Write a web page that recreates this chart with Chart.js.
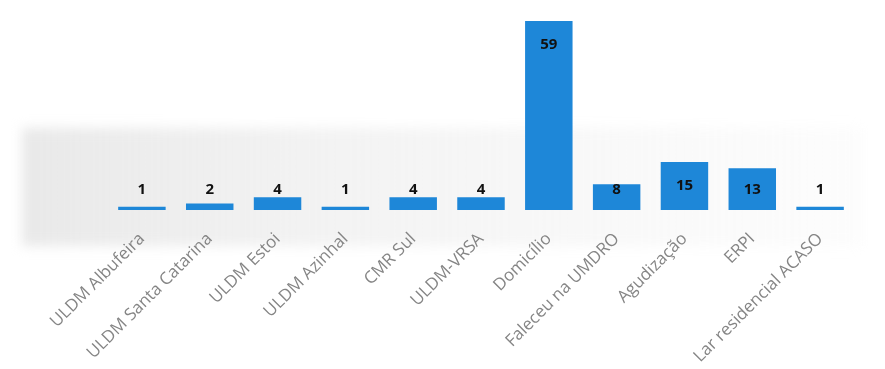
<!DOCTYPE html>
<html lang="pt">
<head>
  <meta charset="utf-8">
  <script src="https://cdn.jsdelivr.net/npm/chart.js"></script>
  <style>
    html, body { margin: 0; padding: 0; background: #fff; }
    #wrap { width: 885px; height: 369px; position: relative; }
  </style>
</head>
<body>
  <div id="wrap">
    <canvas id="chartDestino"></canvas>
  </div>

<script>
  // destino dos utentes após alta
  var destinos = ["ULDM Albufeira", "ULDM Santa Catarina", "ULDM Estoi", "ULDM Azinhal", "CMR Sul",
                  "ULDM-VRSA", "Domicílio", "Faleceu na UMDRO", "Agudização", "ERPI", "Lar residencial ACASO"];
  var utentes = [1, 2, 4, 1, 4, 4, 59, 8, 15, 13, 1];

  // faixa cinzenta por trás das barras
  var fundo = {
    id: 'fundo',
    beforeDraw: function (chart) {
      var ctx = chart.ctx;
      ctx.save();
      var g = ctx.createLinearGradient(20, 0, 870, 0);
      g.addColorStop(0, 'rgba(225,225,225,0.75)');
      g.addColorStop(0.35, 'rgba(232,232,232,0.55)');
      g.addColorStop(1, 'rgba(245,245,245,0.25)');
      ctx.fillStyle = g;
      ctx.filter = 'blur(6px)';
      ctx.fillRect(22, 128, 840, 118);
      ctx.restore();
    }
  };

  // números em cima / dentro das barras
  var valores = {
    id: 'valores',
    afterDatasetsDraw: function (chart) {
      var ctx = chart.ctx;
      var meta = chart.getDatasetMeta(0);
      var base = chart.scales.y.getPixelForValue(0);
      ctx.save();
      ctx.font = 'bold 15px "Open Sans", sans-serif';
      ctx.textAlign = 'center';
      ctx.textBaseline = 'middle';
      ctx.fillStyle = '#111';
      meta.data.forEach(function (bar, i) {
        var y = Math.min(bar.y + 24, base - 20);
        ctx.fillText(utentes[i], bar.x, y);
      });
      ctx.restore();
    }
  };

  var ctxBar = document.getElementById("chartDestino").getContext("2d");
  var configBar = {
    type: 'bar',
    data: {
      labels: destinos,
      datasets: [{
        data: utentes,
        backgroundColor: '#1e87d8',
        borderWidth: 0,
        categoryPercentage: 0.7,
        barPercentage: 1
      }]
    },
    options: {
      responsive: true,
      maintainAspectRatio: false,
      animation: false,
      layout: { padding: { left: 108, right: 31, top: 21, bottom: 0 } },
      plugins: { legend: { display: false }, tooltip: { enabled: false } },
      scales: {
        y: { display: false, min: 0, max: 59 },
        x: {
          grid: { display: false, drawTicks: false },
          border: { display: false },
          afterFit: function (s) { s.height = 159; },
          ticks: {
            minRotation: 45,
            maxRotation: 45,
            padding: 19,
            color: '#858585',
            font: { family: '"Open Sans", sans-serif', size: 17 }
          }
        }
      }
    },
    plugins: [fundo, valores]
  };

  var ax_chartBar = new Chart(ctxBar, configBar);
</script>
</body>
</html>
